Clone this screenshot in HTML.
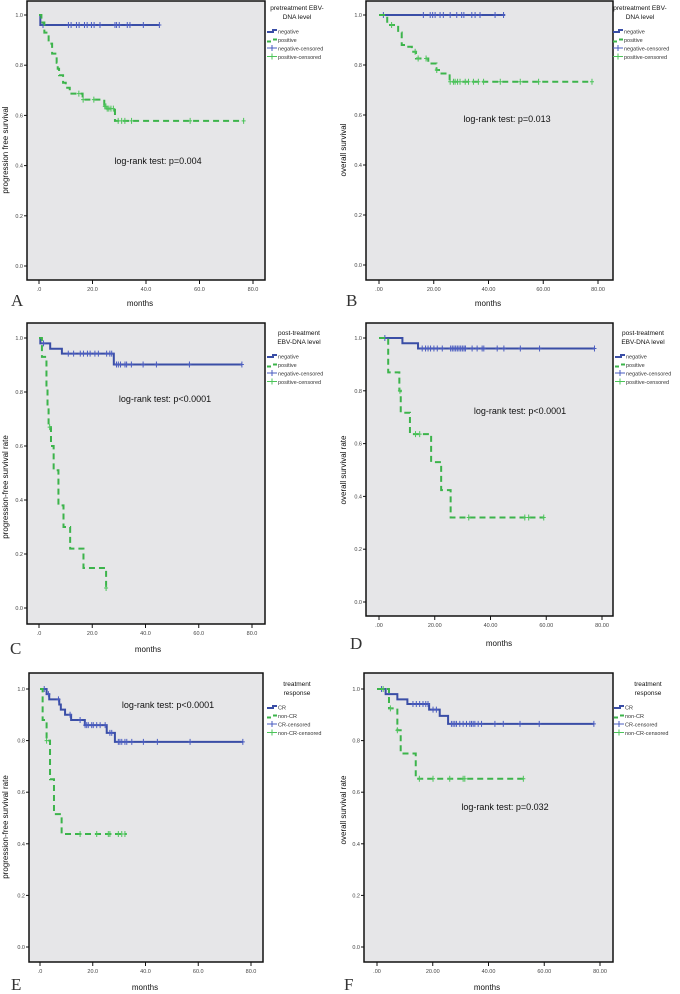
<!DOCTYPE html>
<html><head><meta charset="utf-8"><style>
html,body{margin:0;padding:0;background:#fff;}
svg{display:block;font-family:"Liberation Sans",sans-serif;}
</style></head><body>
<svg id="fig" width="680" height="994" viewBox="0 0 680 994"></svg>
<script>
// ---- data (months, survival) ----
const aNegTimes=[0,0.5], aNegSurv=[1,0.96], aNegCens=[1.5,11,12,14,15,17,18,19.6,20.6,22.8,28.4,29,30,33,34,39,45];
const aPosTimes=[0,0.9,2,3.6,4.9,6.6,7,7.5,9,10,11.5,16.3,24.4,25.3,28.4];
const aPosSurv=[1,0.97,0.93,0.886,0.846,0.81,0.786,0.76,0.73,0.71,0.687,0.663,0.636,0.627,0.578];
const aPosCens=[14.9,16.5,20.5,24.6,25,25.5,26.1,26.9,27.8,29.6,30.9,32.1,34.6,56.5,76.5];
const bNegTimes=[0], bNegSurv=[1], bNegCens=[1.6,16.2,18.7,19.6,20.5,22.3,23.5,26,28.4,30.2,31,33.9,35.1,36.9,42.4,45.5];
const bPosTimes=[0,3,7,8.3,10.7,12,13.5,18,21,22.3,25.8];
const bPosSurv=[1,0.96,0.93,0.88,0.873,0.853,0.826,0.806,0.78,0.766,0.733];
const bPosCens=[4.6,13.2,14.3,17.2,21.1,26,27.2,27.8,28.7,29.6,31.5,32.7,34.5,36.3,38.2,44.3,51.6,58.3,77.8];
const cNegTimes=[0,0.5,4.2,8.6,28.1], cNegSurv=[1,0.98,0.96,0.942,0.902];
const cNegCens=[1.7,11,13,15.5,16.7,18.2,19.2,21,22.3,25.4,26.6,27.3,29.1,29.8,30.6,32.3,32.9,34.7,39.1,44.1,56.5,76.2];
const cPosTimes=[0,1.1,2.8,3.2,3.6,4.5,5.5,7.3,9.2,11.7,16.7,25.2];
const cPosSurv=[1,0.93,0.82,0.74,0.67,0.6,0.51,0.38,0.3,0.22,0.148,0.074];
const cPosCens=[4,25.2];
const dNegTimes=[0,8.4,14], dNegSurv=[1,0.98,0.96];
const dNegCens=[2.1,15.5,16.7,17.6,18.5,19.7,20.9,22.7,25.7,26.3,26.9,27.5,28.1,28.7,29.3,29.9,30.5,31,33.4,35.2,37,37.6,42.4,44.8,50.7,57.6,77.3];
const dPosTimes=[0,3.3,7.3,7.8,11.1,18.7,22.3,25.7], dPosSurv=[1,0.87,0.8,0.717,0.636,0.53,0.424,0.32];
const dPosCens=[7.5,13.1,14.6,32.2,52.3,53.7,59.1];
const eCrTimes=[0,2.5,3.5,7.3,7.9,9.5,11.8,17,25.3,28.4], eCrSurv=[1,0.98,0.96,0.94,0.92,0.9,0.88,0.86,0.83,0.795];
const eCrCens=[1.6,3.2,7,11.4,15.2,17.1,17.7,18.3,19.6,20.2,21.5,22.8,24.7,26.5,27.2,29.7,30.3,31,32.2,32.9,34.8,39.2,44.5,56.9,76.9];
const eNonTimes=[0,1,2.5,3.8,5.3,8.2], eNonSurv=[1,0.88,0.8,0.65,0.515,0.438];
const eNonCens=[2.5,15.2,21.5,25.9,26.5,29.7,31,32.2];
const fCrTimes=[0,3.1,7.3,10.9,18.7,22.5,25.5], fCrSurv=[1,0.98,0.96,0.942,0.92,0.896,0.865];
const fCrCens=[1.6,12.9,14.1,15.3,16.5,17.5,18.3,20.1,21.3,26.7,27.3,27.9,28.5,29.7,30.9,32.1,33.3,33.9,34.5,35.1,36.3,37.5,42.3,45.3,51.3,58.2,77.8];
const fNonTimes=[0,4.3,7.3,8.5,13.9], fNonSurv=[1,0.925,0.84,0.75,0.652];
const fNonCens=[2.2,4.8,7.3,15.2,20.1,26.1,30.9,31.5,52.5];
const yTicks=[0,0.2,0.4,0.6,0.8,1.0];
const yTickLabels=["0.0","0.2","0.4","0.6","0.8","1.0"];
const xTicks=[0,20,40,60,80];
const xTickLabels1=[".0","20.0","40.0","60.0","80.0"];
const xTickLabels2=[".00","20.00","40.00","60.00","80.00"];

const BLUE="#3a4ea6", GREEN="#3cb44b";
const svg=document.getElementById('fig');
const NS="http://www.w3.org/2000/svg";
function mk(tag,attrs,parent){const e=document.createElementNS(NS,tag);for(const k in attrs)e.setAttribute(k,attrs[k]);(parent||svg).appendChild(e);return e;}
function txt(s,x,y,size,anchor,parent,extra){const t=mk('text',Object.assign({x:x,y:y,'font-size':size,'text-anchor':anchor||'start',fill:'#222'},extra||{}),parent);t.textContent=s;return t;}

const panels=[
 {id:'a',box:[27,1,265,280],x0:39,x80:253,y1:15,y0:266,xl:xTickLabels1,ytitle:"progression free survival",ytx:8,yty:150,
  s:[[aNegTimes,aNegSurv,aNegCens,45],[aPosTimes,aPosSurv,aPosCens,76.5]],leg:["pretreatment EBV-","DNA level"],legC:297,legLeft:false,legY:10,legX:267,
  names:["negative","positive","negative-censored","positive-censored"],lr:"log-rank test: p=0.004",lrx:158,lry:164,letter:"A",lx:11,ly:306,mx:140,my:306},
 {id:'b',box:[366,1,613,280],x0:379,x80:598,y1:15,y0:265,xl:xTickLabels2,ytitle:"overall survival",ytx:346,yty:150,
  s:[[bNegTimes,bNegSurv,bNegCens,46],[bPosTimes,bPosSurv,bPosCens,78]],leg:["pretreatment EBV-","DNA level"],legC:640,legLeft:false,legY:10,legX:613,
  names:["negative","positive","negative-censored","positive-censored"],lr:"log-rank test: p=0.013",lrx:507,lry:122,letter:"B",lx:346,ly:306,mx:488,my:306},
 {id:'c',box:[27,323,265,624],x0:39,x80:252,y1:338,y0:608,xl:xTickLabels1,ytitle:"progression-free survival rate",ytx:8,yty:487,
  s:[[cNegTimes,cNegSurv,cNegCens,76.2],[cPosTimes,cPosSurv,cPosCens,25.2]],leg:["post-treatment","EBV-DNA level"],legC:299,legLeft:false,legY:335,legX:267,
  names:["negative","positive","negative-censored","positive-censored"],lr:"log-rank test: p<0.0001",lrx:165,lry:402,letter:"C",lx:10,ly:654,mx:148,my:652},
 {id:'d',box:[366,323,613,616],x0:379,x80:602,y1:338,y0:602,xl:xTickLabels2,ytitle:"overall survival rate",ytx:346,yty:470,
  s:[[dNegTimes,dNegSurv,dNegCens,77.3],[dPosTimes,dPosSurv,dPosCens,59.1]],leg:["post-treatment","EBV-DNA level"],legC:643,legLeft:false,legY:335,legX:615,
  names:["negative","positive","negative-censored","positive-censored"],lr:"log-rank test: p<0.0001",lrx:520,lry:414,letter:"D",lx:350,ly:649,mx:499,my:646},
 {id:'e',box:[29,673,263,962],x0:40,x80:251,y1:689,y0:947,xl:xTickLabels1,ytitle:"progression-free survival rate",ytx:8,yty:827,
  s:[[eCrTimes,eCrSurv,eCrCens,76.9],[eNonTimes,eNonSurv,eNonCens,32.9]],leg:["treatment","response"],legC:297,legLeft:false,legY:686,legX:267,
  names:["CR","non-CR","CR-censored","non-CR-censored"],lr:"log-rank test: p<0.0001",lrx:168,lry:708,letter:"E",lx:11,ly:990,mx:145,my:990},
 {id:'f',box:[364,673,613,962],x0:377,x80:600,y1:689,y0:947,xl:xTickLabels2,ytitle:"overall survival rate",ytx:346,yty:810,
  s:[[fCrTimes,fCrSurv,fCrCens,77.8],[fNonTimes,fNonSurv,fNonCens,53]],leg:["treatment","response"],legC:648,legLeft:false,legY:686,legX:614,
  names:["CR","non-CR","CR-censored","non-CR-censored"],lr:"log-rank test: p=0.032",lrx:505,lry:810,letter:"F",lx:344,ly:990,mx:487,my:990}
];

function survAt(times,surv,t){let v=surv[0];for(let i=0;i<times.length;i++){if(times[i]<=t)v=surv[i];}return v;}

panels.forEach(p=>{
  const g=mk('g',{});
  
  
  const xS=t=>p.x0+(p.x80-p.x0)*t/80;
  const yS=v=>p.y0-(p.y0-p.y1)*v;
  const [bx1,by1,bx2,by2]=p.box;
  const bg=mk('rect',{x:bx1,y:by1,width:bx2-bx1,height:by2-by1,fill:'#e6e6e8',stroke:'#111','stroke-width':1.5},g);
  
  
  yTicks.forEach((v,i)=>{
    mk('line',{x1:bx1-3,x2:bx1,y1:yS(v),y2:yS(v),stroke:'#111','stroke-width':1},g);
    const t=txt(yTickLabels[i],bx1-4,yS(v)+2,5.5,'end',g,{fill:'#444'});
    
    
  });
  xTicks.forEach((v,i)=>{
    mk('line',{x1:xS(v),x2:xS(v),y1:by2,y2:by2+4,stroke:'#111','stroke-width':1},g);
    const t=txt(p.xl[i],xS(v),by2+11,5.5,'middle',g,{fill:'#444'});
    
    
  });
  p.s.forEach((ser,si)=>{
    const [times,surv,cens,end]=ser;
    let d='M'+xS(times[0])+','+yS(surv[0]);
    for(let i=1;i<times.length;i++){d+=' H'+xS(times[i])+' V'+yS(surv[i]);}
    d+=' H'+xS(end);
    const col=si===0?BLUE:GREEN;
    const path=mk('path',{d:d,fill:'none',stroke:col,'stroke-width':si===0?2:2,'stroke-dasharray':si===0?'none':'6,4'},g);
    
    
    cens.forEach(t=>{
      const v=survAt(times,surv,t);
      const c=mk('path',{d:'M'+xS(t)+','+(yS(v)-3)+' V'+(yS(v)+3)+' M'+(xS(t)-2)+','+yS(v)+' H'+(xS(t)+2),stroke:si===0?'#4a5cc0':'#4cc45a','stroke-width':1,fill:'none'},g);
      
      
    });
  });
  // legend
  const lg=mk('g',{},g);
  
  
  txt(p.leg[0],p.legC,p.legY,6.5,'middle',lg,{fill:'#111'});
  txt(p.leg[1],p.legC,p.legY+9,6.5,'middle',lg,{fill:'#111'});
  const ly0=p.legY+22;
  for(let i=0;i<4;i++){
    const y=ly0+i*8.5, x=p.legX;
    const col=(i%2===0)?BLUE:GREEN;
    if(i===0)mk('path',{d:`M${x},${y} H${x+6} V${y-2} H${x+10}`,stroke:col,'stroke-width':2,fill:'none'},lg);
    else if(i===1)mk('path',{d:`M${x},${y+1} H${x+4} M${x+6},${y-1} H${x+10}`,stroke:col,'stroke-width':2,fill:'none'},lg);
    else mk('path',{d:`M${x},${y-1} H${x+10} M${x+5},${y-4} V${y+2}`,stroke:i===2?'#4a5cc0':'#4cc45a','stroke-width':1,fill:'none'},lg);
    const t=txt(p.names[i],x+11,y+1.5,5.5,'start',lg,{fill:'#333'});
    
    
  }
  const lr=txt(p.lr,p.lrx,p.lry,9,'middle',g,{fill:'#111'});
  
  
  const yt=txt(p.ytitle,0,0,8,'middle',g,{fill:'#111',transform:`translate(${p.ytx},${p.yty}) rotate(-90)`});
  
  
  const mt=txt('months',p.mx,p.my,8,'middle',g,{fill:'#111'});
  
  
  const L=txt(p.letter,p.lx,p.ly,17,'start',g,{fill:'#333','font-family':'"Liberation Serif",serif'});
  
  
});
</script>
</body></html>
